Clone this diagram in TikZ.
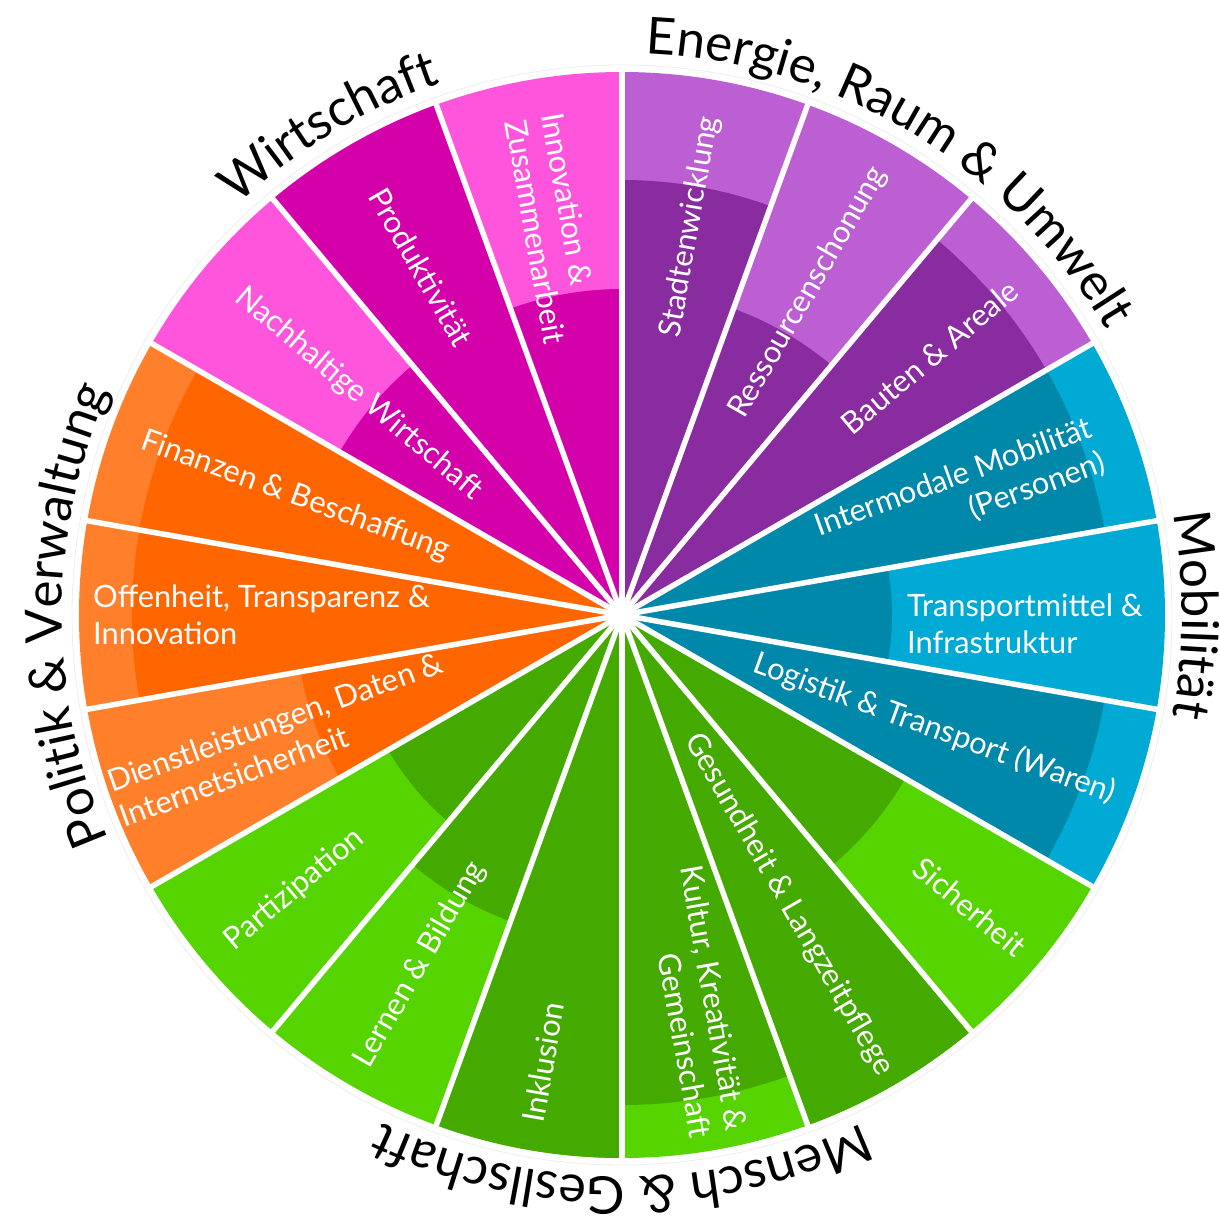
\documentclass[tikz,border=0pt]{standalone}
\usepackage{fontspec}
\setmainfont{Lato}
\usetikzlibrary{decorations.text,calc}
\definecolor{purD}{HTML}{892CA0}
\definecolor{purL}{HTML}{BC5FD3}
\definecolor{cyaD}{HTML}{0088AA}
\definecolor{cyaL}{HTML}{00AAD4}
\definecolor{grnD}{HTML}{44AA00}
\definecolor{grnL}{HTML}{55D400}
\definecolor{orgD}{HTML}{FF6600}
\definecolor{orgL}{HTML}{FF7F2A}
\definecolor{magD}{HTML}{D400AA}
\definecolor{magL}{HTML}{FF55DD}
\begin{document}
\begin{tikzpicture}[x=1pt,y=1pt,
  lab/.style={text=white, font=\fontsize{30.8}{37}\selectfont, inner sep=0pt},
  labR/.style={lab, anchor=east},
  labL/.style={lab, anchor=west},
  cat/.style={decorate, decoration={text along path, text align=center, text color=black}}]
\useasboundingbox (-622,-604) rectangle (598,615);
% sectors
\foreach \a/\rin/\cl/\cd in {70/435/purL/purD, 50/326/purL/purD, 30/490/purL/purD,
  10/490/cyaL/cyaD, -10/270/cyaL/cyaD, -30/490/cyaL/cyaD,
  -50/327/grnL/grnD, -70/543/grnL/grnD, -90/490/grnL/grnD, -110/543/grnL/grnD, -130/326/grnL/grnD, -150/270/grnL/grnD,
  -170/326/orgL/orgD, 170/490/orgL/orgD, 150/490/orgL/orgD,
  130/326/magL/magD, 110/543/magL/magD, 90/326/magL/magD}{
  \fill[\cl] (0,0) -- (\a:543) arc[start angle=\a, delta angle=20, radius=543] -- cycle;
  \fill[\cd] (0,0) -- (\a:\rin) arc[start angle=\a, delta angle=20, radius=\rin] -- cycle;
}
% gaps
\foreach \b in {90,70,...,-250}{
  \draw[white, line width=5.5pt] (0,0) -- (\b:548);
}
\fill[white] (0,0) circle (14);
\draw[black!7, line width=0.8pt] (0,0) circle (550);
% category labels
\path[cat, decoration={text={|\fontsize{51}{60}\selectfont|Energie, Raum {\&} Umwelt}}]
  (100:562) arc[start angle=100, end angle=18, radius=562];
\path[cat, decoration={text={|\fontsize{51}{60}\selectfont|Wirtschaft}}]
  (150:562) arc[start angle=150, end angle=92, radius=562];
\path[cat, decoration={text={|\fontsize{51}{60}\selectfont|Mobilität}}]
  (30:560) arc[start angle=30, end angle=-30, radius=560];
\path[cat, decoration={text={|\fontsize{52}{60}\selectfont|Mensch {\&} Gesllschaft}}]
  (-40:562) arc[start angle=-40, end angle=-140, radius=562];
\path[cat, decoration={text={|\fontsize{51}{60}\selectfont|Politik {\&} Verwaltung}}]
  (230:560) arc[start angle=230, end angle=130, radius=560];
% segment labels, right half (reading outward)
\node[labR, rotate=80] (l1) at (80:506) {Stadtenwicklung};
\node[labR, rotate=60] (l2) at (60:515) {Ressourcenschonung};
\node[labR, rotate=40] (l3) at (40:512) {Bauten \& Areale};
\node[labR, rotate=20, align=right] (l4) at ($(20:505)+(-70:3)$) {Intermodale Mobilität\\(Personen)};
\node[labR, rotate=0, align=left] (l5) at ($(0:521)+(-90:9)$) {Transportmittel \&\\Infrastruktur};
\node[labR, rotate=-20] (l6) at (-20:524) {Logistik \& Transport (Waren)};
\node[labR, rotate=-40] (l7) at (-40:522) {Sicherheit};
\node[labR, rotate=-60] (l8) at (-60:529) {Gesundheit \& Langzeitpflege};
\node[labR, rotate=-80, align=right] (l9) at ($(-80:528)+(10:6)$) {Kultur, Kreativität \&\\Gemeinschaft};
% left half (reading inward)
\node[labL, rotate=80] (l10) at (-100:515) {Inklusion};
\node[labL, rotate=60] (l11) at (-120:520) {Lernen \& Bildung};
\node[labL, rotate=40] (l12) at (-140:513) {Partizipation};
\node[labL, rotate=20, align=left] (l13) at (-160:540) {Dienstleistungen, Daten \&\\Internetsicherheit};
\node[labL, rotate=0, align=left] (l14) at (180:529) {Offenheit, Transparenz \&\\Innovation};
\node[labL, rotate=-20] (l15) at (160:511) {Finanzen \& Beschaffung};
\node[labL, rotate=-40] (l16) at (140:500) {Nachhaltige Wirtschaft};
\node[labL, rotate=-60] (l17) at (120:490) {Produktivität};
\node[labL, rotate=-80, align=left] (l18) at (100:506) {Innovation \&\\Zusammenarbeit};
\end{tikzpicture}
\end{document}
